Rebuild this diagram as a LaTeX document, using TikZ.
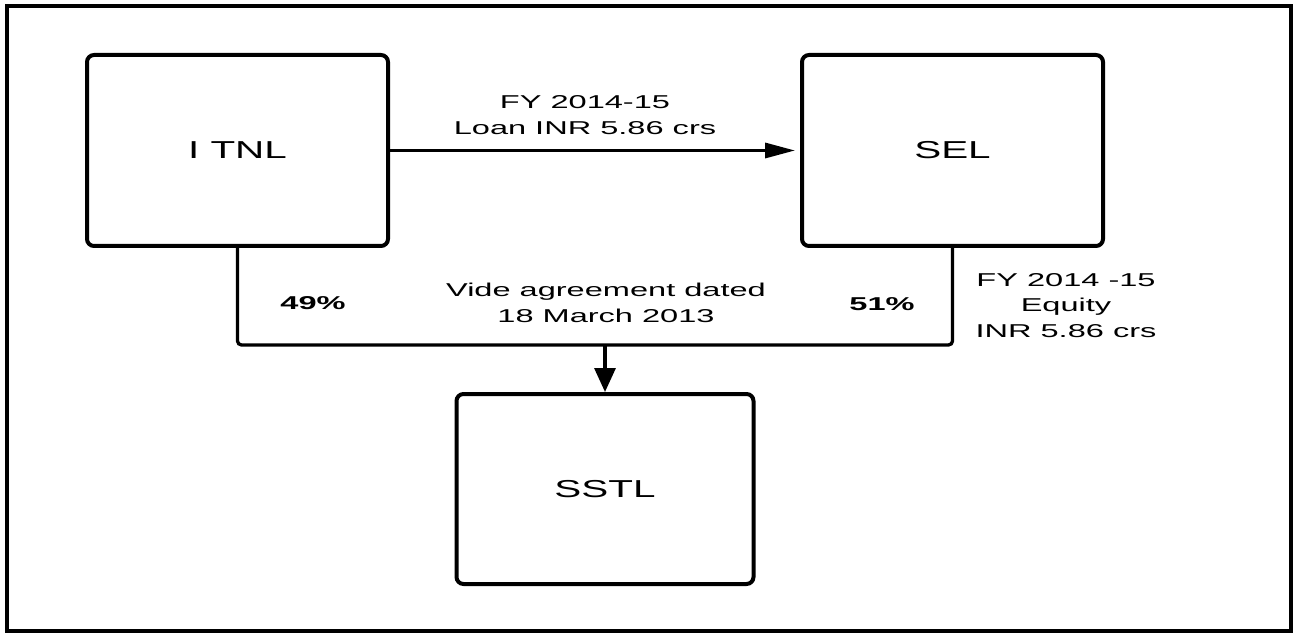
\documentclass[tikz,border=0pt]{standalone}
\usepackage{fontspec}
\setmainfont[FakeStretch=1.75]{Liberation Sans}
\newfontfamily\boxfont[FakeStretch=1.65]{Liberation Sans}
\usetikzlibrary{arrows.meta,positioning}

\begin{document}
\begin{tikzpicture}[x=1pt,y=1pt]
	\tikzstyle{box}=[draw, rectangle, rounded corners=7pt, line width=4pt, minimum width=301pt, minimum height=191pt, font=\boxfont\fontsize{24.5}{29}\selectfont]
	\tikzstyle{lbl}=[align=center, font=\fontsize{18.6}{25.5}\selectfont]
	\tikzstyle{pct}=[font=\bfseries\fontsize{18.6}{25.5}\selectfont]
	\tikzstyle{link}=[line width=3.3pt]

	\useasboundingbox (0,0) rectangle (1298,-636);
	\draw[line width=4pt] (7,-6) rectangle (1291,-631);

	\node[box] (itnl) at (237.5,-150.5) {I TNL};
	\node[box] (sel) [right=410pt of itnl] {SEL};
	\coordinate (join) at (605,-345);
	\node[box, minimum width=297pt, minimum height=190pt] (sstl) [below=47pt of join] {SSTL};

	\node[lbl] (loan) at (585,-115) {FY 2014-15\\Loan INR 5.86 crs};
	\node[lbl] (vide) at (606,-303) {Vide agreement dated\\18 March 2013};
	\node[pct] (share49) at (313,-303) {49\%};
	\node[pct] (share51) at (882,-304) {51\%};
	\node[lbl] (equity) at (1066,-305.5) {FY 2014 -15\\Equity\\INR 5.86 crs};

	\draw[link, -{Triangle[length=30pt,width=15pt]}, shorten >=5pt] (itnl) -- (sel);
	\draw[link, rounded corners=4pt] (itnl.south) |- (join) -| (sel.south);
	\draw[link, -{Triangle[length=24pt,width=21pt]}] (join) -- (sstl.north);
\end{tikzpicture}
\end{document}
